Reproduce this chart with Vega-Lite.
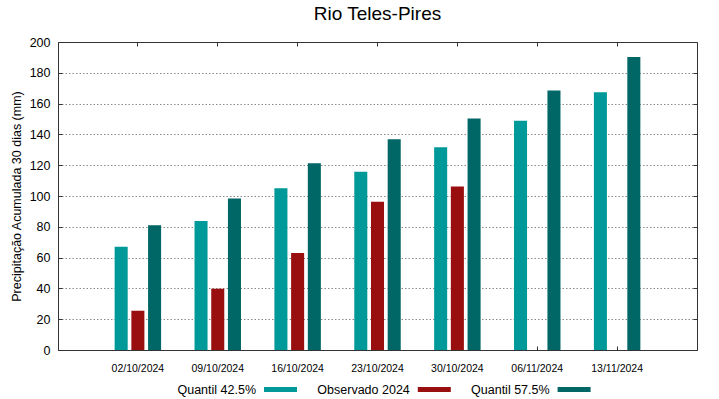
{
  "$schema": "https://vega.github.io/schema/vega-lite/v6.json",
  "width": 639,
  "height": 308,
  "autosize": "none",
  "padding": {"left": 58, "top": 42, "right": 22, "bottom": 49},
  "title": {"text": "Rio Teles-Pires", "fontSize": 19, "font": "Liberation Sans", "fontWeight": "normal", "color": "#000", "anchor": "middle", "offset": 12},
  "data": {"values": [
    {"date": "02/10/2024", "serie": "Quantil 42.5%", "valor": 67},
    {"date": "02/10/2024", "serie": "Observado 2024", "valor": 25.5},
    {"date": "02/10/2024", "serie": "Quantil 57.5%", "valor": 81},
    {"date": "09/10/2024", "serie": "Quantil 42.5%", "valor": 83.7},
    {"date": "09/10/2024", "serie": "Observado 2024", "valor": 39.8},
    {"date": "09/10/2024", "serie": "Quantil 57.5%", "valor": 98.4},
    {"date": "16/10/2024", "serie": "Quantil 42.5%", "valor": 105},
    {"date": "16/10/2024", "serie": "Observado 2024", "valor": 63},
    {"date": "16/10/2024", "serie": "Quantil 57.5%", "valor": 121.2},
    {"date": "23/10/2024", "serie": "Quantil 42.5%", "valor": 115.8},
    {"date": "23/10/2024", "serie": "Observado 2024", "valor": 96.2},
    {"date": "23/10/2024", "serie": "Quantil 57.5%", "valor": 136.8},
    {"date": "30/10/2024", "serie": "Quantil 42.5%", "valor": 131.6},
    {"date": "30/10/2024", "serie": "Observado 2024", "valor": 106.2},
    {"date": "30/10/2024", "serie": "Quantil 57.5%", "valor": 150.3},
    {"date": "06/11/2024", "serie": "Quantil 42.5%", "valor": 148.8},
    {"date": "06/11/2024", "serie": "Quantil 57.5%", "valor": 168.5},
    {"date": "13/11/2024", "serie": "Quantil 42.5%", "valor": 167.4},
    {"date": "13/11/2024", "serie": "Quantil 57.5%", "valor": 190.2}
  ]},
  "encoding": {
    "xOffset": {"field": "serie", "type": "nominal", "sort": ["Quantil 42.5%", "Observado 2024", "Quantil 57.5%"], "scale": {"paddingInner": 0.22, "paddingOuter": 1.1}}
  },
  "layer": [
    {
      "mark": {"type": "bar"},
      "encoding": {
        "x": {"field": "date", "type": "nominal", "sort": null, "scale": {"paddingInner": 0, "paddingOuter": 0.5},
          "axis": {"orient": "bottom", "title": null, "labelAngle": 0, "labelFont": "Liberation Sans", "labelFontSize": 10.5, "labelColor": "#000", "labelDx": 7.5, "labelPadding": 17, "tickSize": -4, "tickColor": "#333", "domainColor": "#333", "grid": false}},
        "y": {"field": "valor", "type": "quantitative", "scale": {"domain": [0, 200], "nice": false},
          "axis": {"orient": "left", "values": [0, 20, 40, 60, 80, 100, 120, 140, 160, 180, 200], "title": "Precipitação Acumulada 30 dias (mm)", "titleFont": "Liberation Sans", "titleFontSize": 12.5, "titleFontWeight": "normal", "titleColor": "#000", "titlePadding": 6,
            "labelFont": "Liberation Sans", "labelFontSize": 12.5, "labelColor": "#000", "labelPadding": 12, "tickSize": -4, "tickColor": "#333", "domainColor": "#333",
            "grid": true, "gridDash": [1.5, 2], "gridColor": "#8a8a8a", "gridWidth": 1,
            "gridOpacity": {"condition": {"test": "datum.value === 0 || datum.value === 200", "value": 0}, "value": 1}}},
        "color": {"field": "serie", "type": "nominal", "sort": ["Quantil 42.5%", "Observado 2024", "Quantil 57.5%"],
          "scale": {"domain": ["Quantil 42.5%", "Observado 2024", "Quantil 57.5%"], "range": ["#009999", "#990e0e", "#006666"]},
          "legend": {"orient": "none", "legendX": 206, "legendY": 331, "direction": "horizontal", "title": null, "labelAlign": "right", "labelOffset": -41,
            "symbolType": "M-1,-0.15H1V0.15H-1Z", "symbolSize": 1089, "symbolStrokeWidth": 0, "symbolOpacity": 1, "columnPadding": 19.8, "padding": 0,
            "labelFont": "Liberation Sans", "labelFontSize": 12.5, "labelColor": "#000"}}
      }
    },
    {
      "mark": {"type": "bar", "opacity": 0},
      "encoding": {
        "x": {"field": "date", "type": "nominal", "sort": null,
          "axis": {"orient": "top", "title": null, "labels": false, "domain": false, "tickSize": -4, "tickColor": "#333", "grid": false}},
        "y": {"field": "valor", "type": "quantitative",
          "axis": {"orient": "right", "values": [0, 20, 40, 60, 80, 100, 120, 140, 160, 180, 200], "title": null, "labels": false, "domain": false, "tickSize": -4, "tickColor": "#333", "grid": false}}
      }
    }
  ],
  "resolve": {"axis": {"x": "independent", "y": "independent"}},
  "config": {
    "view": {"stroke": "#333", "strokeWidth": 1},
    "font": "Liberation Sans"
  }
}
